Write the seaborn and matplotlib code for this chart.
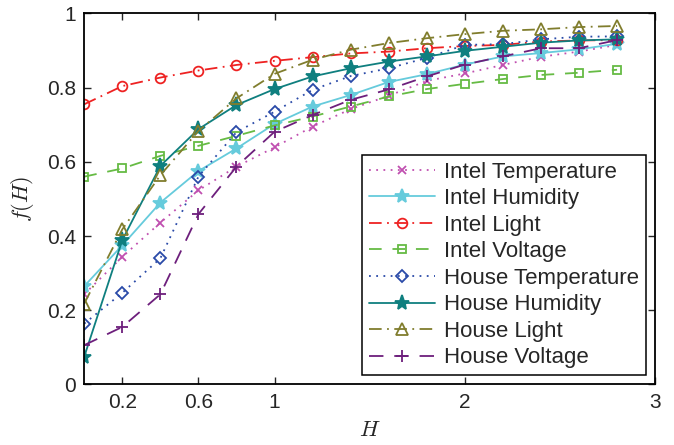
import numpy as np
import pandas as pd
import matplotlib
matplotlib.use("Agg")
import matplotlib.pyplot as plt
import seaborn as sns

# valores
H = [0.0, 0.2, 0.4, 0.6, 0.8, 1.0, 1.2, 1.4, 1.6, 1.8, 2.0, 2.2, 2.4, 2.6, 2.8]

intel_temp = [0.243, 0.344, 0.436, 0.523, 0.587, 0.639, 0.695, 0.742, 0.778, 0.818, 0.838, 0.861, 0.883, 0.897, 0.915]
intel_hum = [0.265, 0.375, 0.490, 0.575, 0.636, 0.702, 0.749, 0.780, 0.815, 0.836, 0.862, 0.884, 0.893, 0.903, 0.918]
intel_light = [0.755, 0.804, 0.827, 0.846, 0.861, 0.872, 0.882, 0.892, 0.897, 0.906, 0.912, 0.915, 0.924, 0.927, 0.928]
intel_volt = [0.560, 0.582, 0.616, 0.643, 0.670, 0.698, 0.722, 0.749, 0.776, 0.796, 0.810, 0.823, 0.834, 0.840, 0.848]
house_temp = [0.164, 0.247, 0.340, 0.560, 0.680, 0.735, 0.794, 0.831, 0.852, 0.880, 0.915, 0.917, 0.930, 0.937, 0.938]
house_hum = [0.075, 0.389, 0.589, 0.688, 0.753, 0.796, 0.830, 0.852, 0.870, 0.884, 0.899, 0.910, 0.921, 0.927, 0.930]
house_light = [0.218, 0.418, 0.564, 0.683, 0.771, 0.837, 0.875, 0.902, 0.920, 0.933, 0.944, 0.953, 0.957, 0.963, 0.966]
house_volt = [0.106, 0.155, 0.243, 0.459, 0.587, 0.681, 0.726, 0.767, 0.795, 0.830, 0.862, 0.884, 0.906, 0.906, 0.928]

x_ticks = [0.2, 0.6, 1, 2, 3]
x_ticklabels = ["0.2", "0.6", "1", "2", "3"]
y_ticks = [0, 0.2, 0.4, 0.6, 0.8, 1]
y_ticklabels = ["0", "0.2", "0.4", "0.6", "0.8", "1"]

series = [
    ("Intel Temperature", intel_temp, "#c04fb0", (0, (1, 3)), "x", False, 6),
    ("Intel Humidity", intel_hum, "#66cbdc", "-", "*", True, 10),
    ("Intel Light", intel_light, "#ee2222", (0, (7, 3, 1, 3)), "o", False, 7),
    ("Intel Voltage", intel_volt, "#66bb44", (0, (7, 6)), "s", False, 6),
    ("House Temperature", house_temp, "#2a4aa8", (0, (1, 3)), "D", False, 6),
    ("House Humidity", house_hum, "#0f7f7f", "-", "*", True, 11),
    ("House Light", house_light, "#807d2d", (0, (7, 3, 1, 3)), "^", False, 8),
    ("House Voltage", house_volt, "#6d1f7c", (0, (8, 6)), "+", True, 8),
]

sns.set_style("ticks")
plt.rcParams["font.family"] = ["Liberation Sans", "DejaVu Sans"]
plt.rcParams["mathtext.fontset"] = "cm"
plt.rcParams["xtick.direction"] = "in"
plt.rcParams["ytick.direction"] = "in"

fig = plt.figure(figsize=(6.74, 4.45), dpi=100)
ax = fig.add_axes([0.125, 0.136, 0.847, 0.834])

for nome, vals, cor, ls, mk, cheio, ms in series:
    df = pd.DataFrame({"H": H, "f": vals})
    sns.lineplot(data=df, x="H", y="f", ax=ax, color=cor, linestyle=ls, linewidth=1.3,
                 marker=mk, markersize=ms, markeredgecolor=cor, markeredgewidth=1.3,
                 markerfacecolor=cor if cheio else "none", label=nome)

ax.set_xlim(0, 3)
ax.set_ylim(0, 1)
ax.set_xticks(x_ticks)
ax.set_xticklabels(x_ticklabels)
ax.set_yticks(y_ticks)
ax.set_yticklabels(y_ticklabels)
ax.tick_params(labelsize=15, length=5, width=1, top=True, right=True, pad=6)
for s in ax.spines.values():
    s.set_visible(True)
    s.set_linewidth(1.3)
    s.set_color("black")

ax.set_xlabel("$H$", fontsize=16, labelpad=6)
ax.set_ylabel("$f(H)$", fontsize=16, labelpad=8)

leg = ax.legend(loc="lower right", fontsize=16, handlelength=3.0, handletextpad=0.4,
                labelspacing=0.25, borderaxespad=0.42, borderpad=0.3,
                frameon=True, fancybox=False, framealpha=1, edgecolor="black")
leg.get_frame().set_linewidth(1.1)

fig.savefig("out.png", dpi=100)
